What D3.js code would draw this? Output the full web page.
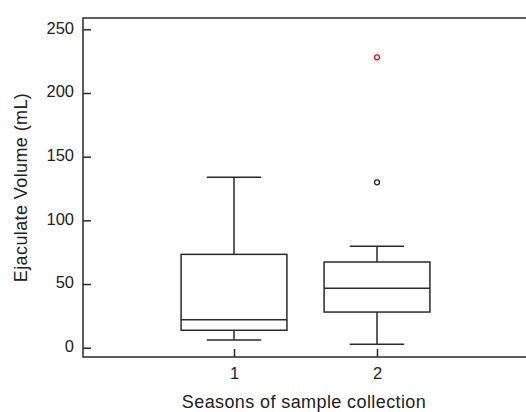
<!DOCTYPE html>
<html>
<head>
<meta charset="utf-8">
<script src="https://cdn.jsdelivr.net/npm/d3@7"></script>
<style>
  body { margin: 0; background: #fff; }
  svg { display: block; }
  text { font-family: "Liberation Sans", Arial, sans-serif; fill: #222; }
</style>
</head>
<body>
<svg width="526" height="412"></svg>
<script>
var seasons = [1, 2];
var whiskerLow  = [6, 2.7];
var q1          = [13.7, 28];
var median      = [22, 46.6];
var q3          = [73.3, 67.3];
var whiskerHigh = [133.8, 79.6];
var outliers = [
  {season: 2, value: 129.9, color: "#222"},
  {season: 2, value: 228, color: "#ff0000"}
];
var yTicks = [0, 50, 100, 150, 200, 250];

var svg = d3.select("svg"),
    plotLeft = 83, plotTop = 18, plotRight = 527, plotBottom = 357,
    stroke = "#2a2a2a";

var x = d3.scaleLinear().domain([-0.056, 3.049]).range([plotLeft, plotRight]);
var y = d3.scaleLinear().domain([-7.3, 258.9]).range([plotBottom, plotTop]);

var boxHalf = 0.37, capHalf = 0.19;

// frame
svg.append("rect")
  .attr("x", plotLeft).attr("y", plotTop)
  .attr("width", plotRight - plotLeft).attr("height", plotBottom - plotTop)
  .attr("fill", "none").attr("stroke", stroke).attr("stroke-width", 1.5);

// y axis, ticks inside
var yAxis = svg.append("g")
  .attr("transform", "translate(" + plotLeft + ",0)")
  .call(d3.axisRight(y).tickValues(yTicks).tickSize(8));
yAxis.select(".domain").remove();
yAxis.selectAll("line").attr("stroke", stroke).attr("stroke-width", 1.5);
yAxis.selectAll("text")
  .attr("text-anchor", "end").attr("x", -9).attr("y", -1.5)
  .style("font-size", "16.5px").style("font-family", "'Liberation Sans', Arial, sans-serif")
  .attr("fill", "#222");

// x axis, ticks inside
var xAxis = svg.append("g")
  .attr("transform", "translate(0," + plotBottom + ")")
  .call(d3.axisTop(x).tickValues(seasons).tickSize(8).tickFormat(d3.format("d")));
xAxis.select(".domain").remove();
xAxis.selectAll("line").attr("stroke", stroke).attr("stroke-width", 1.5);
xAxis.selectAll("text")
  .attr("y", 22).attr("dy", 0)
  .style("font-size", "16.5px").style("font-family", "'Liberation Sans', Arial, sans-serif")
  .attr("fill", "#222");

// boxes
var g = svg.append("g").attr("fill", "none").attr("stroke", stroke).attr("stroke-width", 1.5);
seasons.forEach(function(s, i) {
  g.append("line")
    .attr("x1", x(s)).attr("x2", x(s))
    .attr("y1", y(q3[i])).attr("y2", y(whiskerHigh[i]));
  g.append("line")
    .attr("x1", x(s)).attr("x2", x(s))
    .attr("y1", y(q1[i])).attr("y2", y(whiskerLow[i]));
  g.append("line")
    .attr("x1", x(s - capHalf)).attr("x2", x(s + capHalf))
    .attr("y1", y(whiskerHigh[i])).attr("y2", y(whiskerHigh[i]));
  g.append("line")
    .attr("x1", x(s - capHalf)).attr("x2", x(s + capHalf))
    .attr("y1", y(whiskerLow[i])).attr("y2", y(whiskerLow[i]));
  g.append("rect")
    .attr("x", x(s - boxHalf)).attr("width", x(s + boxHalf) - x(s - boxHalf))
    .attr("y", y(q3[i])).attr("height", y(q1[i]) - y(q3[i]));
  g.append("line")
    .attr("x1", x(s - boxHalf)).attr("x2", x(s + boxHalf))
    .attr("y1", y(median[i])).attr("y2", y(median[i]));
});

// outliers
svg.selectAll(".outlier")
  .data(outliers).enter()
  .append("circle")
  .attr("class", "outlier")
  .attr("cx", function(d) { return x(d.season); })
  .attr("cy", function(d) { return y(d.value); })
  .attr("r", 2.5)
  .attr("fill", "none")
  .attr("stroke", function(d) { return d.color; })
  .attr("stroke-width", 1.3);

// titles
svg.append("text")
  .attr("x", 304).attr("y", 408)
  .attr("text-anchor", "middle")
  .style("font-size", "18px").style("letter-spacing", "0.4px")
  .text("Seasons of sample collection");

svg.append("text")
  .attr("transform", "translate(27," + ((plotTop + plotBottom) / 2) + ") rotate(-90)")
  .attr("text-anchor", "middle")
  .style("font-size", "18px").style("letter-spacing", "0.4px")
  .text("Ejaculate Volume (mL)");
</script>
</body>
</html>
